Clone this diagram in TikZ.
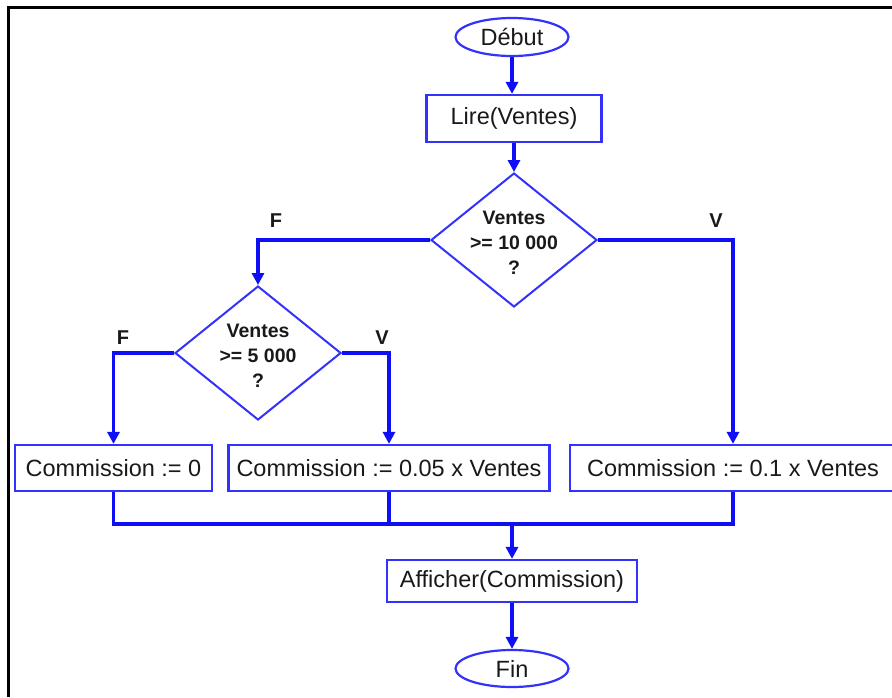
\documentclass[tikz,border=0pt]{standalone}
\usepackage{fontspec}
\setmainfont{Liberation Sans}
\usetikzlibrary{arrows.meta,shapes.geometric}

\definecolor{flowblue}{RGB}{15,15,245}
\definecolor{edgeblue}{RGB}{50,50,250}
\definecolor{inkgray}{RGB}{25,25,25}

\tikzset{
  conn/.style={draw=flowblue, line width=3.2pt},
  arrowline/.style={conn, -{Triangle[length=12pt,width=12pt]}},
  procbox/.style={draw=edgeblue, line width=2.2pt, rectangle, inner sep=0pt,
    text=inkgray, font=\fontsize{23.5}{26}\selectfont},
  terminal/.style={draw=edgeblue, line width=2.2pt, ellipse, inner sep=0pt,
    minimum width=113pt, minimum height=38pt, text=inkgray,
    font=\fontsize{23.5}{26}\selectfont},
  decision/.style={draw=edgeblue, line width=2pt, diamond, inner sep=0pt,
    minimum width=166pt, minimum height=134pt},
  decisiontext/.style={align=center, inner sep=0pt, text=inkgray,
    font=\bfseries\fontsize{19.5}{25}\selectfont},
  branchlabel/.style={inner sep=0pt, text=inkgray,
    font=\bfseries\fontsize{20}{22}\selectfont}
}

\begin{document}
\begin{tikzpicture}[x=1pt, y=-1pt]
\useasboundingbox (0,0) rectangle (892,697);

% outer frame (top and left edges)
\draw[line width=3pt, black] (8,697) -- (8,7) -- (892,7);

% nodes
\node[terminal] (debut) at (512,37) {Début};
\node[procbox, minimum width=175pt, minimum height=47pt] (lire) at (514,118.5) {Lire(Ventes)};

\node[decision] (d1) at (514,240) {};
\node[decisiontext] (t1) at (514,243) {Ventes\\>= 10 000\\?};

\node[decision] (d2) at (258,353) {};
\node[decisiontext] (t2) at (258,356) {Ventes\\>= 5 000\\?};

\node[procbox, minimum width=197pt, minimum height=46pt] (c0) at (113.5,468) {Commission := 0};
\node[procbox, minimum width=321pt, minimum height=46pt] (c1) at (389,468) {Commission := 0.05 x Ventes};
\node[procbox, minimum width=326pt, minimum height=46pt] (c2) at (733,468) {Commission := 0.1 x Ventes};

\node[procbox, minimum width=250pt, minimum height=42pt] (aff) at (512,581) {Afficher(Commission)};
\node[terminal, minimum height=37pt] (fin) at (512,668.5) {Fin};

% branch labels
\node[branchlabel] (lf1) at (276,221) {F};
\node[branchlabel] (lv1) at (716,221) {V};
\node[branchlabel] (lf2) at (123,338) {F};
\node[branchlabel] (lv2) at (382,338) {V};

\coordinate (join) at (512,524);

% connectors
\draw[arrowline] (debut.south) -- (debut.south |- lire.north);
\draw[arrowline] (lire.south) -- (d1.north);
\draw[arrowline] (d1.west) -| (d2.north);
\draw[arrowline] (d1.east) -| (c2.north);
\draw[arrowline] (d2.west) -| (c0.north);
\draw[arrowline] (d2.east) -| (c1.north);
\draw[conn] (c0.south) |- (join);
\draw[conn] (c2.south) |- (join);
\draw[conn] (c1.south) -- (c1.south |- join);
\draw[arrowline] (join) -- (join |- aff.north);
\draw[arrowline] (aff.south) -- (fin.north);
\end{tikzpicture}
\end{document}
